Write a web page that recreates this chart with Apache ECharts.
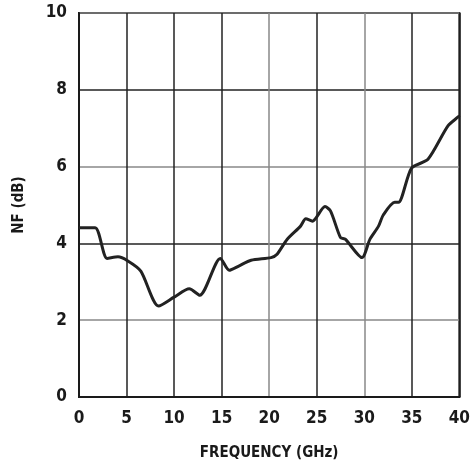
<!DOCTYPE html>
<html>
<head>
<meta charset="utf-8">
<script src="https://cdn.jsdelivr.net/npm/echarts@6/dist/echarts.min.js"></script>
<style>html,body{margin:0;padding:0;background:#fff;}#c{width:473px;height:466px;}</style>
</head>
<body>
<div id="c"></div>
<script>
var freqGHz = [0, 1.7, 2.95, 4.1, 5.1, 6.5, 8.37, 10.0, 11.6, 12.7, 14.86, 15.8, 16.8, 18.1, 20.2, 20.8, 21.9, 23.3, 23.85, 24.55, 25.87, 26.46, 27.5, 28.0, 29.76, 30.6, 31.5, 32.0, 33.2, 33.6, 34.97, 36.7, 38.8, 39.9, 40];
var nfDb = [4.41, 4.41, 3.61, 3.65, 3.55, 3.28, 2.37, 2.6, 2.82, 2.65, 3.61, 3.3, 3.41, 3.56, 3.63, 3.71, 4.11, 4.45, 4.64, 4.58, 4.96, 4.84, 4.15, 4.11, 3.63, 4.11, 4.45, 4.74, 5.07, 5.07, 5.96, 6.19, 7.06, 7.3, 7.33];
var xTicks = [0, 5, 10, 15, 20, 25, 30, 35, 40];
var yTicks = [0, 2, 4, 6, 8, 10];

var font = "'Liberation Sans Narrow', 'DejaVu Sans Condensed', sans-serif";
var chart = echarts.init(document.getElementById('c'));
chart.setOption({
  animation: false,
  grid: { left: 79, right: 10, top: 13, bottom: 69, show: true, borderColor: '#1a1a1a', borderWidth: 2, backgroundColor: 'transparent' },
  xAxis: {
    type: 'value', min: xTicks[0], max: xTicks[xTicks.length - 1], interval: 5,
    name: 'FREQUENCY (GHz)', nameLocation: 'middle', nameGap: 49,
    nameTextStyle: { fontFamily: font, fontWeight: 'bold', fontSize: 15, color: '#1a1a1a' },
    axisLine: { show: true, lineStyle: { color: '#1a1a1a', width: 2 } },
    axisTick: { show: false },
    axisLabel: { margin: 13, fontFamily: font, fontWeight: 'bold', fontSize: 17, color: '#1a1a1a' },
    splitLine: { show: true, lineStyle: { width: 1.5, color: ['#222', '#222', '#222', '#222', '#888', '#222', '#888', '#222', '#222'] } }
  },
  yAxis: {
    type: 'value', min: yTicks[0], max: yTicks[yTicks.length - 1], interval: 2,
    name: 'NF (dB)', nameLocation: 'middle', nameGap: 52, nameRotate: 90,
    nameTextStyle: { fontFamily: font, fontWeight: 'bold', fontSize: 15, color: '#1a1a1a' },
    axisLine: { show: true, lineStyle: { color: '#1a1a1a', width: 2 } },
    axisTick: { show: false },
    axisLabel: { margin: 12, fontFamily: font, fontWeight: 'bold', fontSize: 17, color: '#1a1a1a' },
    splitLine: { show: true, lineStyle: { width: 1.5, color: ['#222', '#888'] } }
  },
  series: [{
    type: 'line',
    data: freqGHz.map(function (f, i) { return [f, nfDb[i]]; }),
    showSymbol: false,
    smooth: 0.25,
    lineStyle: { color: '#222', width: 3 }
  }]
});
</script>
</body>
</html>
